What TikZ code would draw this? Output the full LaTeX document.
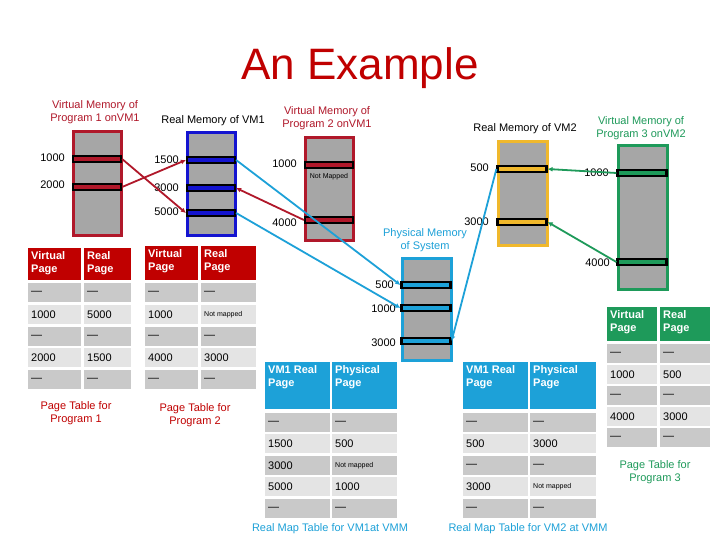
\documentclass[tikz,border=0pt]{standalone}
\usepackage{fontspec}
\setmainfont{Liberation Sans}
\usetikzlibrary{arrows.meta}
\definecolor{dred}{HTML}{B0182A}
\definecolor{tred}{HTML}{C00000}
\definecolor{cyn}{HTML}{1DA1D8}
\definecolor{grn}{HTML}{1E9A5A}
\definecolor{ylw}{HTML}{F0B82C}
\definecolor{blu}{HTML}{1414D0}
\definecolor{mg}{HTML}{A6A6A6}
\definecolor{rowA}{HTML}{C9C9C9}
\definecolor{rowB}{HTML}{E4E4E4}
\begin{document}
\begin{tikzpicture}[x=1pt,y=-1pt,
  mem/.style={draw=#1,line width=3pt,fill=mg},
  strip/.style={draw=black,line width=2.2pt,fill=#1,minimum height=6pt,inner sep=0pt},
  lbl/.style={font=\fontsize{11}{12}\selectfont,inner sep=1pt},
  ttl/.style={font=\fontsize{11}{13}\selectfont,align=center,text=#1},
  lnk/.style={draw=#1,line width=1.8pt,-{Latex[length=5pt,width=5pt]}},
  hdr/.style={fill=#1,text=white,font=\bfseries\fontsize{11}{13}\selectfont,align=left,anchor=north west,inner sep=3pt},
  cell/.style={font=\fontsize{11}{12}\selectfont,anchor=west,inner sep=3pt}]
\useasboundingbox (0,0) rectangle (720,540);
\fill[white] (0,0) rectangle (720,540);
\node[text=tred,font=\fontsize{44}{48}\selectfont] (title) at (360,68) {An Example};
% titles
\node[ttl=dred] (t1) at (95,112) {Virtual Memory of\\Program 1 onVM1};
\node[ttl=black] (t2) at (213,121) {Real Memory of VM1};
\node[ttl=dred] (t3) at (327,118) {Virtual Memory of\\Program 2 onVM1};
\node[ttl=black] (t4) at (525,129) {Real Memory of VM2};
\node[ttl=grn] (t5) at (641,128) {Virtual Memory of\\Program 3 onVM2};
\node[ttl=cyn] (t6) at (425,240) {Physical Memory\\of System};
% memory boxes
\draw[mem=dred] (73,132) rectangle (121,235);
\draw[mem=blu] (187,133) rectangle (235,235);
\draw[mem=dred] (305,138) rectangle (353,240);
\draw[mem=cyn] (402,258) rectangle (451,360);
\draw[mem=ylw] (498,142) rectangle (547,245);
\draw[mem=grn] (618,146) rectangle (667,289);
% strips
\node[strip=dred,minimum width=48pt] (a1) at (97,159) {};
\node[strip=dred,minimum width=48pt] (a2) at (97,187) {};
\node[strip=blu,minimum width=48pt] (b1) at (211,160) {};
\node[strip=blu,minimum width=48pt] (b2) at (211,188) {};
\node[strip=blu,minimum width=48pt] (b3) at (211,213) {};
\node[strip=dred,minimum width=48pt] (c1) at (329,165) {};
\node[strip=dred,minimum width=48pt] (c2) at (329,220) {};
\node[strip=cyn,minimum width=49pt] (d1) at (426,285) {};
\node[strip=cyn,minimum width=49pt] (d2) at (426,308) {};
\node[strip=cyn,minimum width=49pt] (d3) at (426,341) {};
\node[strip=ylw,minimum width=49pt] (e1) at (522,169) {};
\node[strip=ylw,minimum width=49pt] (e2) at (522,222) {};
\node[strip=grn,minimum width=49pt] (f1) at (642,173) {};
\node[strip=grn,minimum width=49pt] (f2) at (642,262) {};
% address labels
\node[lbl,anchor=east] (la1) at (66,158) {1000};
\node[lbl,anchor=east] (la2) at (66,185) {2000};
\node[lbl,anchor=east] (lb1) at (180,160) {1500};
\node[lbl,anchor=east] (lb2) at (180,188) {3000};
\node[lbl,anchor=east] (lb3) at (180,212) {5000};
\node[lbl,anchor=east] (lc1) at (298,164) {1000};
\node[font=\fontsize{7}{8}\selectfont,inner sep=0pt] (nm) at (329,177) {Not Mapped};
\node[lbl,anchor=east] (lc2) at (298,223) {4000};
\node[lbl,anchor=east] (ld1) at (395,285) {500};
\node[lbl,anchor=east] (ld2) at (397,309) {1000};
\node[lbl,anchor=east] (ld3) at (397,343) {3000};
\node[lbl,anchor=east] (le1) at (490,168) {500};
\node[lbl,anchor=east] (le2) at (490,222) {3000};
\node[lbl,anchor=east] (lf1) at (610,173) {1000};
\node[lbl,anchor=east] (lf2) at (611,263) {4000};
% links
\draw[lnk=dred] (a1.east) -- (b3.west);
\draw[lnk=dred] (a2.east) -- (b1.west);
\draw[lnk=dred] (c2.west) -- (b2.east);
\draw[lnk=cyn] (b1.east) -- (d1.west);
\draw[lnk=cyn] (b3.east) -- (d2.west);
\draw[lnk=cyn] (e1.west) -- (d3.east);
\draw[lnk=grn] (f1.west) -- (e1.east);
\draw[lnk=grn] (f2.west) -- (e2.east);
% table macro via loops
\newcommand{\mytab}[9]{% #1 x0, #2 x1, #3 x2, #4 x3, #5 hdr top, #6 hdr bottom, #7 color, #8 col1 hdr, #9 col2 hdr
  \fill[#7] (#1,#5) rectangle (#2,#6); \fill[#7] (#3,#5) rectangle (#4,#6);
  \node[hdr=#7] at (#1,#5) {#8}; \node[hdr=#7] at (#3,#5) {#9};}
% table 1
\mytab{28}{81}{84}{131}{248}{280}{tred}{Virtual\\Page}{Real\\Page}
\foreach \t/\c/\u/\v [count=\i] in {283/rowA/---/---,305/rowB/1000/5000,327/rowA/---/---,348/rowB/2000/1500,370/rowA/---/---}{
  \fill[\c] (28,\t) rectangle (81,\t+19); \fill[\c] (84,\t) rectangle (131,\t+19);
  \node[cell] (ta\i) at (28,\t+10) {\u}; \node[cell] (tb\i) at (84,\t+10) {\v};}
\node[ttl=tred] (cap1) at (76,413) {Page Table for\\Program 1};
% table 2
\mytab{145}{198}{201}{256}{246}{280}{tred}{Virtual\\Page}{Real\\Page}
\foreach \t/\c/\u/\v [count=\i] in {283/rowA/---/---,305/rowB/1000/{\fontsize{7}{8}\selectfont Not mapped},327/rowA/---/---,348/rowB/4000/3000,370/rowA/---/---}{
  \fill[\c] (145,\t) rectangle (198,\t+19); \fill[\c] (201,\t) rectangle (256,\t+19);
  \node[cell] (tc\i) at (145,\t+10) {\u}; \node[cell] (td\i) at (201,\t+10) {\v};}
\node[ttl=tred] (cap2) at (195,415) {Page Table for\\Program 2};
% table 3
\mytab{265}{330}{332}{397}{362}{409}{cyn}{VM1 Real\\Page}{Physical\\Page}
\foreach \t/\c/\u/\v [count=\i] in {413/rowA/---/---,434/rowB/1500/500,456/rowA/3000/{\fontsize{7}{8}\selectfont Not mapped},477/rowB/5000/1000,499/rowA/---/---}{
  \fill[\c] (265,\t) rectangle (330,\t+19); \fill[\c] (332,\t) rectangle (397,\t+19);
  \node[cell] (te\i) at (265,\t+10) {\u}; \node[cell] (tf\i) at (332,\t+10) {\v};}
\node[ttl=cyn] (cap3) at (330,529) {Real Map Table for VM1at VMM};
% table 4
\mytab{463}{528}{530}{596}{362}{409}{cyn}{VM1 Real\\Page}{Physical\\Page}
\foreach \t/\c/\u/\v [count=\i] in {413/rowA/---/---,434/rowB/500/3000,456/rowA/---/---,477/rowB/3000/{\fontsize{7}{8}\selectfont Not mapped},499/rowA/---/---}{
  \fill[\c] (463,\t) rectangle (528,\t+19); \fill[\c] (530,\t) rectangle (596,\t+19);
  \node[cell] (tg\i) at (463,\t+10) {\u}; \node[cell] (th\i) at (530,\t+10) {\v};}
\node[ttl=cyn] (cap4) at (528,529) {Real Map Table for VM2 at VMM};
% table 5
\mytab{607}{657}{660}{710}{307}{341}{grn}{Virtual\\Page}{Real\\Page}
\foreach \t/\c/\u/\v [count=\i] in {344/rowA/---/---,365/rowB/1000/500,386/rowA/---/---,407/rowB/4000/3000,428/rowA/---/---}{
  \fill[\c] (607,\t) rectangle (657,\t+19); \fill[\c] (660,\t) rectangle (710,\t+19);
  \node[cell] (ti\i) at (607,\t+10) {\u}; \node[cell] (tj\i) at (660,\t+10) {\v};}
\node[ttl=grn] (cap5) at (655,472) {Page Table for\\Program 3};
\end{tikzpicture}
\end{document}
